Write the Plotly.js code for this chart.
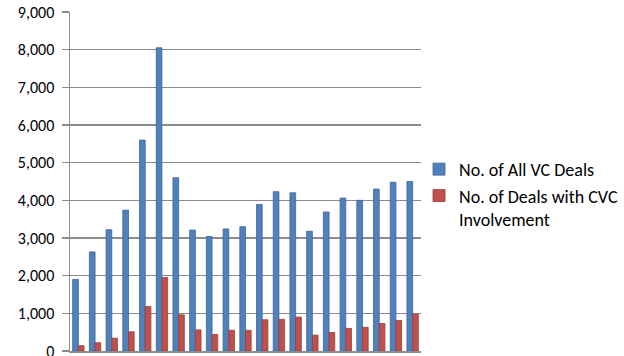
<!DOCTYPE html>
<html>
<head>
<meta charset="utf-8">
<script src="https://cdn.plot.ly/plotly-3.0.1.min.js"></script>
<style>
  html, body { margin: 0; padding: 0; background: #ffffff; }
  #chart { width: 624px; height: 356px; }
</style>
</head>
<body>
<div id="chart"></div>
<script>
// One slot per period (21 periods, no labels on the category axis)
const periods = Array.from({length: 21}, (_, i) => i + 1);

const allVcDeals = [1900, 2630, 3220, 3740, 5600, 8050, 4600, 3210, 3040, 3240, 3300,
                    3890, 4230, 4200, 3180, 3690, 4060, 4000, 4300, 4480, 4500];

const cvcDeals = [140, 220, 340, 510, 1180, 1950, 960, 560, 440, 550, 550,
                  830, 840, 900, 420, 490, 600, 630, 730, 810, 980];

const yTicks = [0, 1000, 2000, 3000, 4000, 5000, 6000, 7000, 8000, 9000];
const yTickText = ['0', '1,000', '2,000', '3,000', '4,000', '5,000', '6,000', '7,000', '8,000', '9,000'];

const FONT = 'Carlito, Lato, "Open Sans", sans-serif';
const GRID = '#8c8c8c';

const traces = [
  {
    type: 'bar',
    name: 'No. of All VC Deals',
    x: periods,
    y: allVcDeals,
    marker: { color: '#4F81BD', line: { color: '#3B6596', width: 0.8 } },
    hoverinfo: 'y'
  },
  {
    type: 'bar',
    name: 'No. of Deals with CVC<br>Involvement',
    x: periods,
    y: cvcDeals,
    marker: { color: '#C0504D', line: { color: '#983E3B', width: 0.8 } },
    hoverinfo: 'y'
  }
];

const layout = {
  width: 624,
  height: 356,
  margin: { l: 70, r: 203, t: 12, b: 5, pad: 0, autoexpand: false },
  paper_bgcolor: '#ffffff',
  plot_bgcolor: '#ffffff',
  barmode: 'group',
  bargap: 0.32,
  bargroupgap: 0,
  font: { family: FONT, size: 16, color: '#000000' },
  xaxis: {
    range: [0.5, 21.5],
    showticklabels: false,
    ticks: '',
    showgrid: false,
    zeroline: false,
    showline: true,
    linecolor: GRID,
    linewidth: 1.5,
    fixedrange: true
  },
  yaxis: {
    range: [0, 9000],
    tickvals: yTicks,
    ticktext: yTickText,
    ticks: 'outside',
    ticklen: 7,
    tickcolor: GRID,
    tickwidth: 1.3,
    ticklabelstandoff: 4,
    ticklabeloverflow: 'allow',
    tickfont: { family: FONT, size: 16, color: '#000000' },
    showgrid: true,
    gridcolor: GRID,
    gridwidth: 1.5,
    zeroline: false,
    showline: true,
    linecolor: GRID,
    linewidth: 1.5,
    fixedrange: true
  },
  showlegend: true,
  legend: {
    xref: 'container',
    yref: 'container',
    x: 0.6715,
    xanchor: 'left',
    y: 0.576,
    yanchor: 'top',
    valign: 'top',
    font: { family: FONT, size: 18, color: '#000000' },
    bgcolor: 'rgba(0,0,0,0)',
    borderwidth: 0,
    traceorder: 'normal',
    itemclick: false,
    itemdoubleclick: false
  }
};

Plotly.newPlot('chart', traces, layout, { displayModeBar: false, staticPlot: true });
</script>
</body>
</html>
